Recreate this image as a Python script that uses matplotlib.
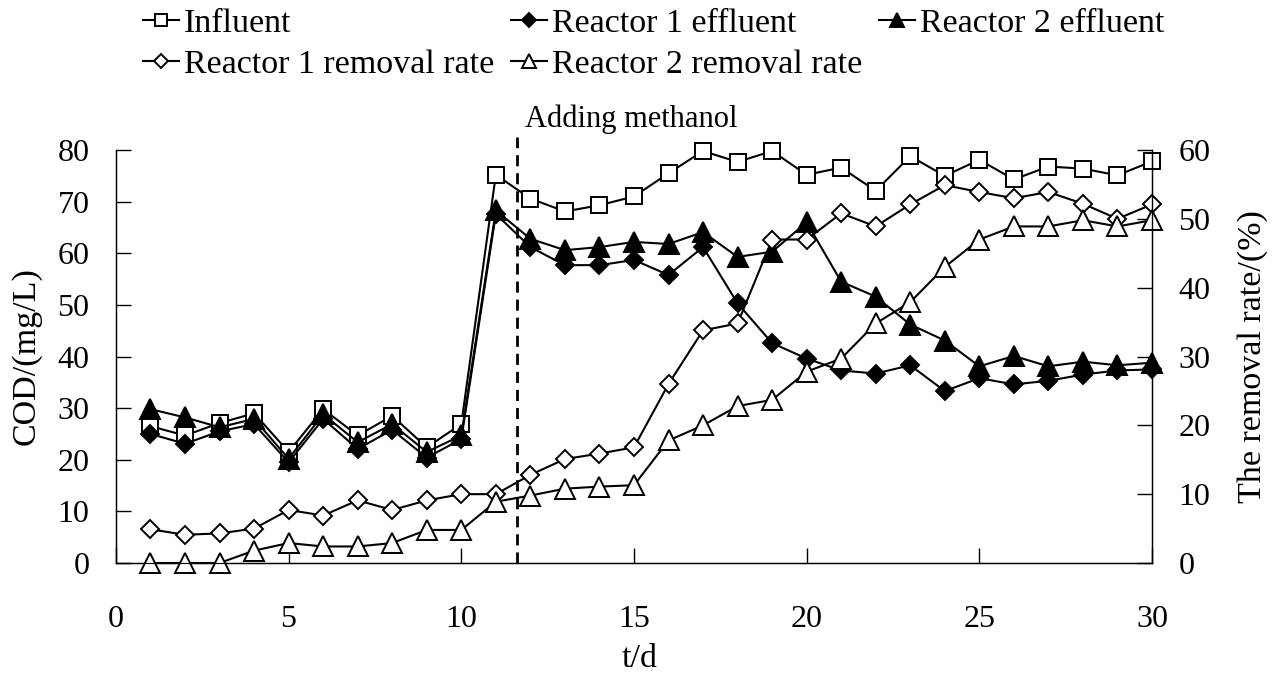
#!/usr/bin/env python3
# plot.py - COD and removal rate of two reactors over time
import numpy as np
import matplotlib.pyplot as plt

days = np.arange(1, 31)

influent = [26.5, 24.7, 27.1, 29.0, 21.5, 29.8, 24.7, 28.5, 22.4, 26.9,
            75.2, 70.6, 68.1, 69.3, 71.0, 75.5, 79.8, 77.7, 79.8, 75.2,
            76.6, 72.1, 78.8, 75.0, 78.1, 74.3, 76.8, 76.4, 75.1, 77.8]
r1_effluent = [25.0, 23.1, 25.5, 26.9, 19.5, 27.9, 22.1, 25.8, 20.4, 24.0,
               67.6, 61.2, 57.7, 57.7, 58.7, 55.8, 61.2, 50.3, 42.6, 39.6,
               37.3, 36.7, 38.3, 33.3, 35.8, 34.6, 35.3, 36.5, 37.3, 37.5]
r2_effluent = [29.8, 28.2, 26.3, 27.9, 20.2, 28.8, 23.4, 26.9, 21.5, 24.7,
               68.3, 62.8, 60.6, 61.2, 62.2, 61.8, 64.1, 59.3, 60.3, 66.0,
               54.5, 51.6, 46.2, 43.1, 38.1, 40.1, 38.1, 39.0, 38.3, 38.8]
r1_removal = [4.9, 4.1, 4.3, 5.0, 7.7, 6.9, 9.1, 7.7, 9.1, 10.0,
              10.0, 12.8, 15.1, 15.9, 16.8, 26.0, 33.8, 34.8, 47.0, 47.0,
              50.8, 48.9, 52.1, 54.9, 53.9, 53.0, 53.9, 52.2, 50.0, 52.1]
r2_removal = [0.0, 0.0, 0.0, 1.8, 2.9, 2.4, 2.4, 2.9, 4.8, 4.8,
              8.9, 9.8, 10.8, 11.1, 11.3, 17.8, 20.0, 22.8, 23.7, 27.8,
              29.7, 34.8, 37.9, 43.0, 47.0, 48.9, 48.9, 49.8, 48.9, 49.8]

methanol_day = 11.6

plt.rcParams["font.family"] = ["Liberation Serif", "DejaVu Serif"]
plt.rcParams["font.size"] = 23

fig = plt.figure(figsize=(12.77, 6.93), dpi=100)
ax = fig.add_axes([0.0908, 0.1876, 0.8113, 0.5959])
ax2 = ax.twinx()

lw = 1.5
common = dict(color="black", lw=lw, mec="black", mew=1.4, clip_on=False)

h_inf, = ax.plot(days, influent, marker="s", ms=11, mfc="white",
                 label="Influent", **common)
h_r1e, = ax.plot(days, r1_effluent, marker="D", ms=9.5, mfc="black",
                 label="Reactor 1 effluent", **common)
h_r2e, = ax.plot(days, r2_effluent, marker="^", ms=14, mfc="black",
                 label="Reactor 2 effluent", **common)
h_r1r, = ax2.plot(days, r1_removal, marker="D", ms=9.5, mfc="white",
                  label="Reactor 1 removal rate", **common)
h_r2r, = ax2.plot(days, r2_removal, marker="^", ms=14, mfc="white",
                  label="Reactor 2 removal rate", **common)

# dashed marker for methanol dosing, reaching a bit above the frame
ax.plot([methanol_day, methanol_day], [0, 82.5], ls=(0, (4, 2.5)),
        color="black", lw=2, clip_on=False)
ax.text(methanol_day + 0.25, 83.2, "Adding methanol", fontsize=22,
        ha="left", va="bottom")

ax.set_xlim(0, 30)
ax.set_ylim(0, 80)
ax2.set_ylim(0, 60)
ax.set_xticks(np.arange(0, 31, 5))
ax.set_yticks(np.arange(0, 81, 10))
ax2.set_yticks(np.arange(0, 61, 10))

ax.tick_params(axis="x", direction="in", length=11, width=1, pad=30)
ax.tick_params(axis="y", direction="in", length=11, width=1, pad=19)
ax2.tick_params(axis="y", direction="in", length=11, width=1, pad=19)
ax.spines["top"].set_visible(False)
ax2.spines["top"].set_visible(False)
for sp in ("left", "bottom"):
    ax.spines[sp].set_linewidth(1)
ax2.spines["right"].set_linewidth(1)

ax.set_ylabel("COD/(mg/L)", fontsize=24.5)
ax.yaxis.set_label_coords(-0.0714, 0.5)
ax2.set_ylabel("The removal rate/(%)", fontsize=24.5)
ax2.yaxis.set_label_coords(1.082, 0.5)
ax.set_xlabel("t/d", fontsize=24.5)
ax.xaxis.set_label_coords(0.505, -0.194)

handles = [h_inf, h_r1r, h_r1e, h_r2r, h_r2e]
fig.legend(handles=handles, labels=[h.get_label() for h in handles],
           loc="upper left", bbox_to_anchor=(143 / 1277, 1 - 8 / 693),
           ncol=3, frameon=False, handlelength=1.05, handletextpad=0.15,
           columnspacing=0.5, borderaxespad=0, borderpad=0,
           labelspacing=0.3, markerscale=0.75, fontsize=24.5)

fig.savefig("out.png", dpi=100)
